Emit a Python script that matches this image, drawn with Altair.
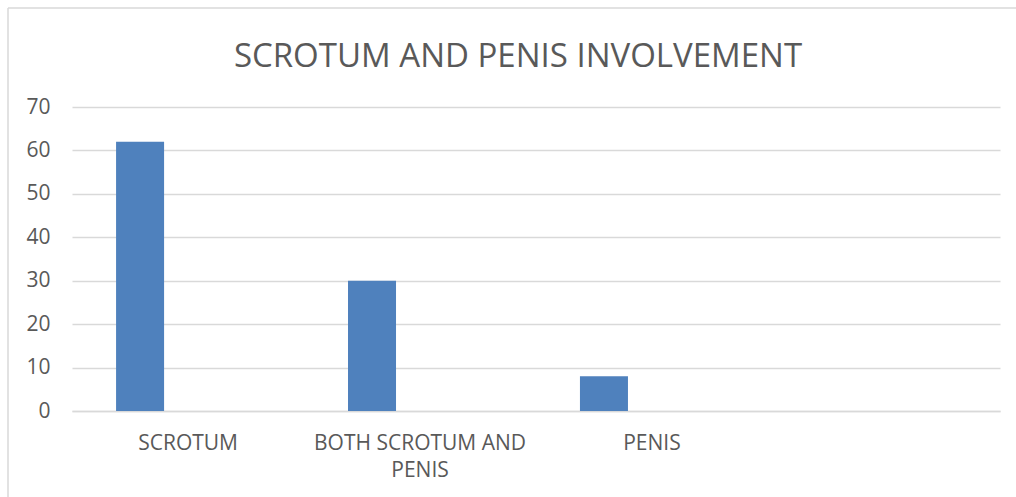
import altair as alt
import pandas as pd

# ---- data ----
categories = ["SCROTUM", "BOTH SCROTUM AND PENIS", "PENIS"]
values = [62, 30, 8]
series_names = ["Series1", "Series2", "Series3"]   # only the first series has data
x_domain = categories + [""]                        # 4th (empty) category slot
y_ticks = [0, 10, 20, 30, 40, 50, 60, 70]
title_text = "SCROTUM AND PENIS INVOLVEMENT"

df = pd.DataFrame({"category": categories, "value": values, "series": series_names[0]})

FONT = "Open Sans"
TXT = "#595959"
GRID = "#D9D9D9"

bars = alt.Chart(df).mark_bar(color="#4F81BD").encode(
    x=alt.X(
        "category:N",
        scale=alt.Scale(domain=x_domain, paddingInner=0.379, paddingOuter=0.19),
        sort=x_domain,
        axis=alt.Axis(
            title=None,
            labelAngle=0,
            labelFont=FONT,
            labelFontSize=21,
            labelColor=TXT,
            labelPadding=21,
            labelLimit=400,
            labelLineHeight=27,
            labelBaseline="top",
            ticks=False,
            domain=True,
            domainColor=GRID,
            domainWidth=1.5,
            grid=False,
            labelExpr="datum.value == 'BOTH SCROTUM AND PENIS' ? ['BOTH SCROTUM AND', 'PENIS'] : datum.value",
        ),
    ),
    xOffset=alt.XOffset("series:N", scale=alt.Scale(domain=series_names)),
    y=alt.Y(
        "value:Q",
        scale=alt.Scale(domain=[0, 70], nice=False),
        axis=alt.Axis(
            title=None,
            values=y_ticks,
            labelFont=FONT,
            labelFontSize=21,
            labelColor=TXT,
            labelPadding=22,
            ticks=False,
            domain=False,
            grid=True,
            gridColor=GRID,
            gridWidth=1.5,
        ),
    ),
)

frame_data = alt.Data(values=[{}])
frame_top = alt.Chart(frame_data).mark_rule(color=GRID, strokeWidth=1.5).encode(
    x=alt.value(-64), x2=alt.value(1000), y=alt.value(-99)
)
frame_left = alt.Chart(frame_data).mark_rule(color=GRID, strokeWidth=1.5).encode(
    x=alt.value(-64), y=alt.value(-99), y2=alt.value(500)
)
title = alt.Chart(alt.Data(values=[{"t": title_text}])).mark_text(
    font=FONT, fontSize=33, color=TXT, align="center", baseline="alphabetic"
).encode(text="t:N", x=alt.value(446), y=alt.value(-40))

chart = alt.layer(frame_top, frame_left, title, bars).properties(
    width=928,
    height=304,
    autosize=alt.AutoSizeParams(type="none"),
    padding={"left": 72, "top": 107, "right": 16, "bottom": 86},
).configure(background="white", view=alt.ViewConfig(stroke=None))

chart.save("out.html", embed_options={"renderer": "svg", "actions": False})
